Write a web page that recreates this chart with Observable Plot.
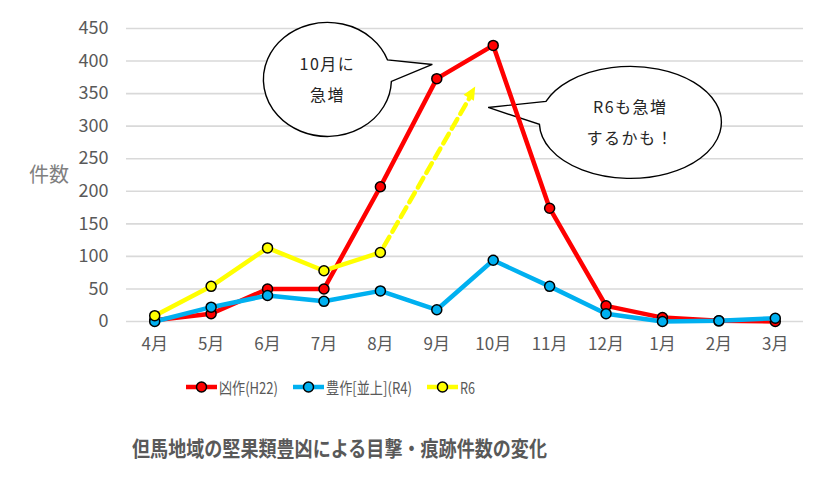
<!DOCTYPE html>
<html><head><meta charset="utf-8">
<script src="https://cdn.jsdelivr.net/npm/d3@7"></script>
<script src="https://cdn.jsdelivr.net/npm/@observablehq/plot@0.6"></script>
<style>
body{margin:0;background:#fff;font-family:"Noto Sans CJK JP","Noto Sans",sans-serif;}
#wrap{position:relative;width:826px;height:481px;overflow:hidden;background:#fff;}
#chart{position:absolute;left:0;top:0;}
#ylab{position:absolute;left:29px;top:160px;font-size:20px;color:#808080;line-height:28px;}
#legend{position:absolute;left:0;top:376px;width:826px;height:22px;font-size:16px;color:#595959;line-height:22px;white-space:nowrap;}
.sw{position:absolute;top:4px;}
.lt{position:absolute;top:0;transform-origin:0 50%;}
#title{position:absolute;left:132px;top:433px;font-size:21px;font-weight:bold;color:#595959;line-height:28px;white-space:nowrap;transform-origin:0 50%;}
</style></head>
<body><div id="wrap"><div id="chart"></div><div id="ylab">件数</div><div id="legend"></div><div id="title"></div></div>
<script>
const months = ["4月","5月","6月","7月","8月","9月","10月","11月","12月","1月","2月","3月"];
const h22 = [2, 12, 50, 50, 207, 373, 424, 174, 24, 6, 1, 0];
const r4 = [0, 22, 40, 31, 47, 18, 94, 54, 12, 0, 1, 5];
const r6 = [9, 54, 113, 78, 106];
const yTicks = [0, 50, 100, 150, 200, 250, 300, 350, 400, 450];
const seriesNames = ["凶作(H22)", "豊作[並上](R4)", "R6"];
const seriesColors = ["#ff0000", "#00b0f0", "#ffff00"];
const titleText = "但馬地域の堅果類豊凶による目撃・痕跡件数の変化";
const yLabel = "件数";
// trend arrow (month index, count)
const trendFrom = {x: 4, y: 106};
const trendTo = {x: 5.69, y: 360};
// callout bubbles: centre and tail tip in data units
const callouts = [
  {lines: ["10月に", "急増"], cx: 3.07, cy: 371, tipX: 4.93, tipY: 394, a1: -20, a2: 2},
  {lines: ["R6も急増", "するかも！"], cx: 8.44, cy: 305, tipX: 5.92, tipY: 328, a1: 178, a2: 202}
];
const calloutSize = [[64, 57], [91, 56]];
const legendSwatchX = [186, 293, 427];
const legendTextW = [59, 86, 15];
const titleW = 415;

document.getElementById("title").textContent = titleText;
document.getElementById("ylab").textContent = yLabel;

const idx = months.map((_, i) => i);
const rows = arr => arr.map((v, i) => ({i, v}));
const data = [rows(h22), rows(r4), rows(r6)];

const marks = [
  Plot.ruleY(yTicks, {stroke: "#d9d9d9", strokeWidth: 1.6}),
  Plot.arrow([{x1: trendFrom.x, y1: trendFrom.y, x2: trendTo.x, y2: trendTo.y}], {
    x1: "x1", y1: "y1", x2: "x2", y2: "y2",
    stroke: seriesColors[2], strokeWidth: 4.5, strokeDasharray: "11,6",
    headLength: 0, insetStart: 7, insetEnd: 11
  })
];
data.forEach((d, k) => {
  marks.push(Plot.line(d, {x: "i", y: "v", stroke: seriesColors[k], strokeWidth: 4.5}));
  marks.push(Plot.dot(d, {x: "i", y: "v", r: 5, fill: seriesColors[k], stroke: "#000", strokeWidth: 1.5}));
});

const plot = Plot.plot({
  width: 826, height: 360,
  marginLeft: 126, marginRight: 23, marginTop: 28, marginBottom: 39,
  style: {fontFamily: '"Noto Sans CJK JP","Noto Sans",sans-serif', fontSize: "17px", color: "#595959", background: "#fff", overflow: "visible"},
  x: {type: "linear", domain: [-0.5, 11.5], ticks: idx, tickFormat: i => months[i], tickSize: 0, tickPadding: 16, label: null},
  y: {domain: [0, 450], ticks: yTicks, tickFormat: d => String(d), tickSize: 0, tickPadding: 18, label: null},
  marks
});
document.getElementById("chart").appendChild(plot);
d3.select(plot).selectAll('g[aria-label^="y-axis"] text').style("font-size", "18px");
d3.select(plot).selectAll('g[aria-label^="x-axis"] text').style("font-size", "17px");

const sx = plot.scale("x"), sy = plot.scale("y");
const fx = sx.apply ? v => sx.apply(v) : d3.scaleLinear(sx.domain, sx.range);
const fy = sy.apply ? v => sy.apply(v) : d3.scaleLinear(sy.domain, sy.range);

const svg = d3.select(plot);
const ann = svg.append("g");
const firstLine = plot.querySelector('g[aria-label="line"]');
if (firstLine) plot.insertBefore(ann.node(), firstLine);

callouts.forEach((c, k) => {
  const [rx, ry] = calloutSize[k];
  const cx = fx(c.cx), cy = fy(c.cy);
  const pt = a => [cx + rx * Math.cos(a * Math.PI / 180), cy + ry * Math.sin(a * Math.PI / 180)];
  const p2 = pt(c.a2), p1 = pt(c.a1);
  const tip = [fx(c.tipX), fy(c.tipY)];
  const path = `M${p2[0]},${p2[1]} A${rx},${ry} 0 1 1 ${p1[0]},${p1[1]} L${tip[0]},${tip[1]} Z`;
  ann.append("path").attr("d", path).attr("fill", "#fff").attr("stroke", "#000").attr("stroke-width", 1.4).attr("stroke-linejoin", "miter");
  c.lines.forEach((t, j) => {
    ann.append("text").attr("x", cx).attr("y", cy + (j === 0 ? -16 : 15))
      .attr("text-anchor", "middle").attr("dominant-baseline", "central")
      .attr("font-size", 16).attr("letter-spacing", "1.5px").attr("fill", "#262626").text(t);
  });
});

// arrow head
{
  const s = [fx(trendFrom.x), fy(trendFrom.y)], p = [fx(trendTo.x), fy(trendTo.y)];
  const dx = p[0] - s[0], dy = p[1] - s[1], L = Math.hypot(dx, dy);
  const ux = dx / L, uy = dy / L, nx = -uy, ny = ux;
  const bx = p[0] - 13 * ux, by = p[1] - 13 * uy;
  svg.append("path")
    .attr("d", `M${p[0]},${p[1]} L${bx + 6 * nx},${by + 6 * ny} L${bx - 6 * nx},${by - 6 * ny} Z`)
    .attr("fill", seriesColors[2]);
}

// legend
const leg = d3.select("#legend");
seriesNames.forEach((n, k) => {
  const s = leg.append("svg").attr("class", "sw").attr("width", 31).attr("height", 14).style("left", legendSwatchX[k] + "px");
  s.append("line").attr("x1", 0).attr("x2", 31).attr("y1", 7).attr("y2", 7).attr("stroke", seriesColors[k]).attr("stroke-width", 4.5);
  s.append("circle").attr("cx", 15.5).attr("cy", 7).attr("r", 5).attr("fill", seriesColors[k]).attr("stroke", "#000").attr("stroke-width", 1.5);
  const t = leg.append("span").attr("class", "lt").style("left", (legendSwatchX[k] + 33) + "px").text(n);
  const w = t.node().getBoundingClientRect().width;
  if (w > 0) t.style("transform", `scaleX(${Math.min(1.1, legendTextW[k] / w)})`);
});
{
  const t = document.getElementById("title");
  const w = t.getBoundingClientRect().width;
  if (w > 0) t.style.transform = `scaleX(${titleW / w})`;
}
</script>
</body></html>
